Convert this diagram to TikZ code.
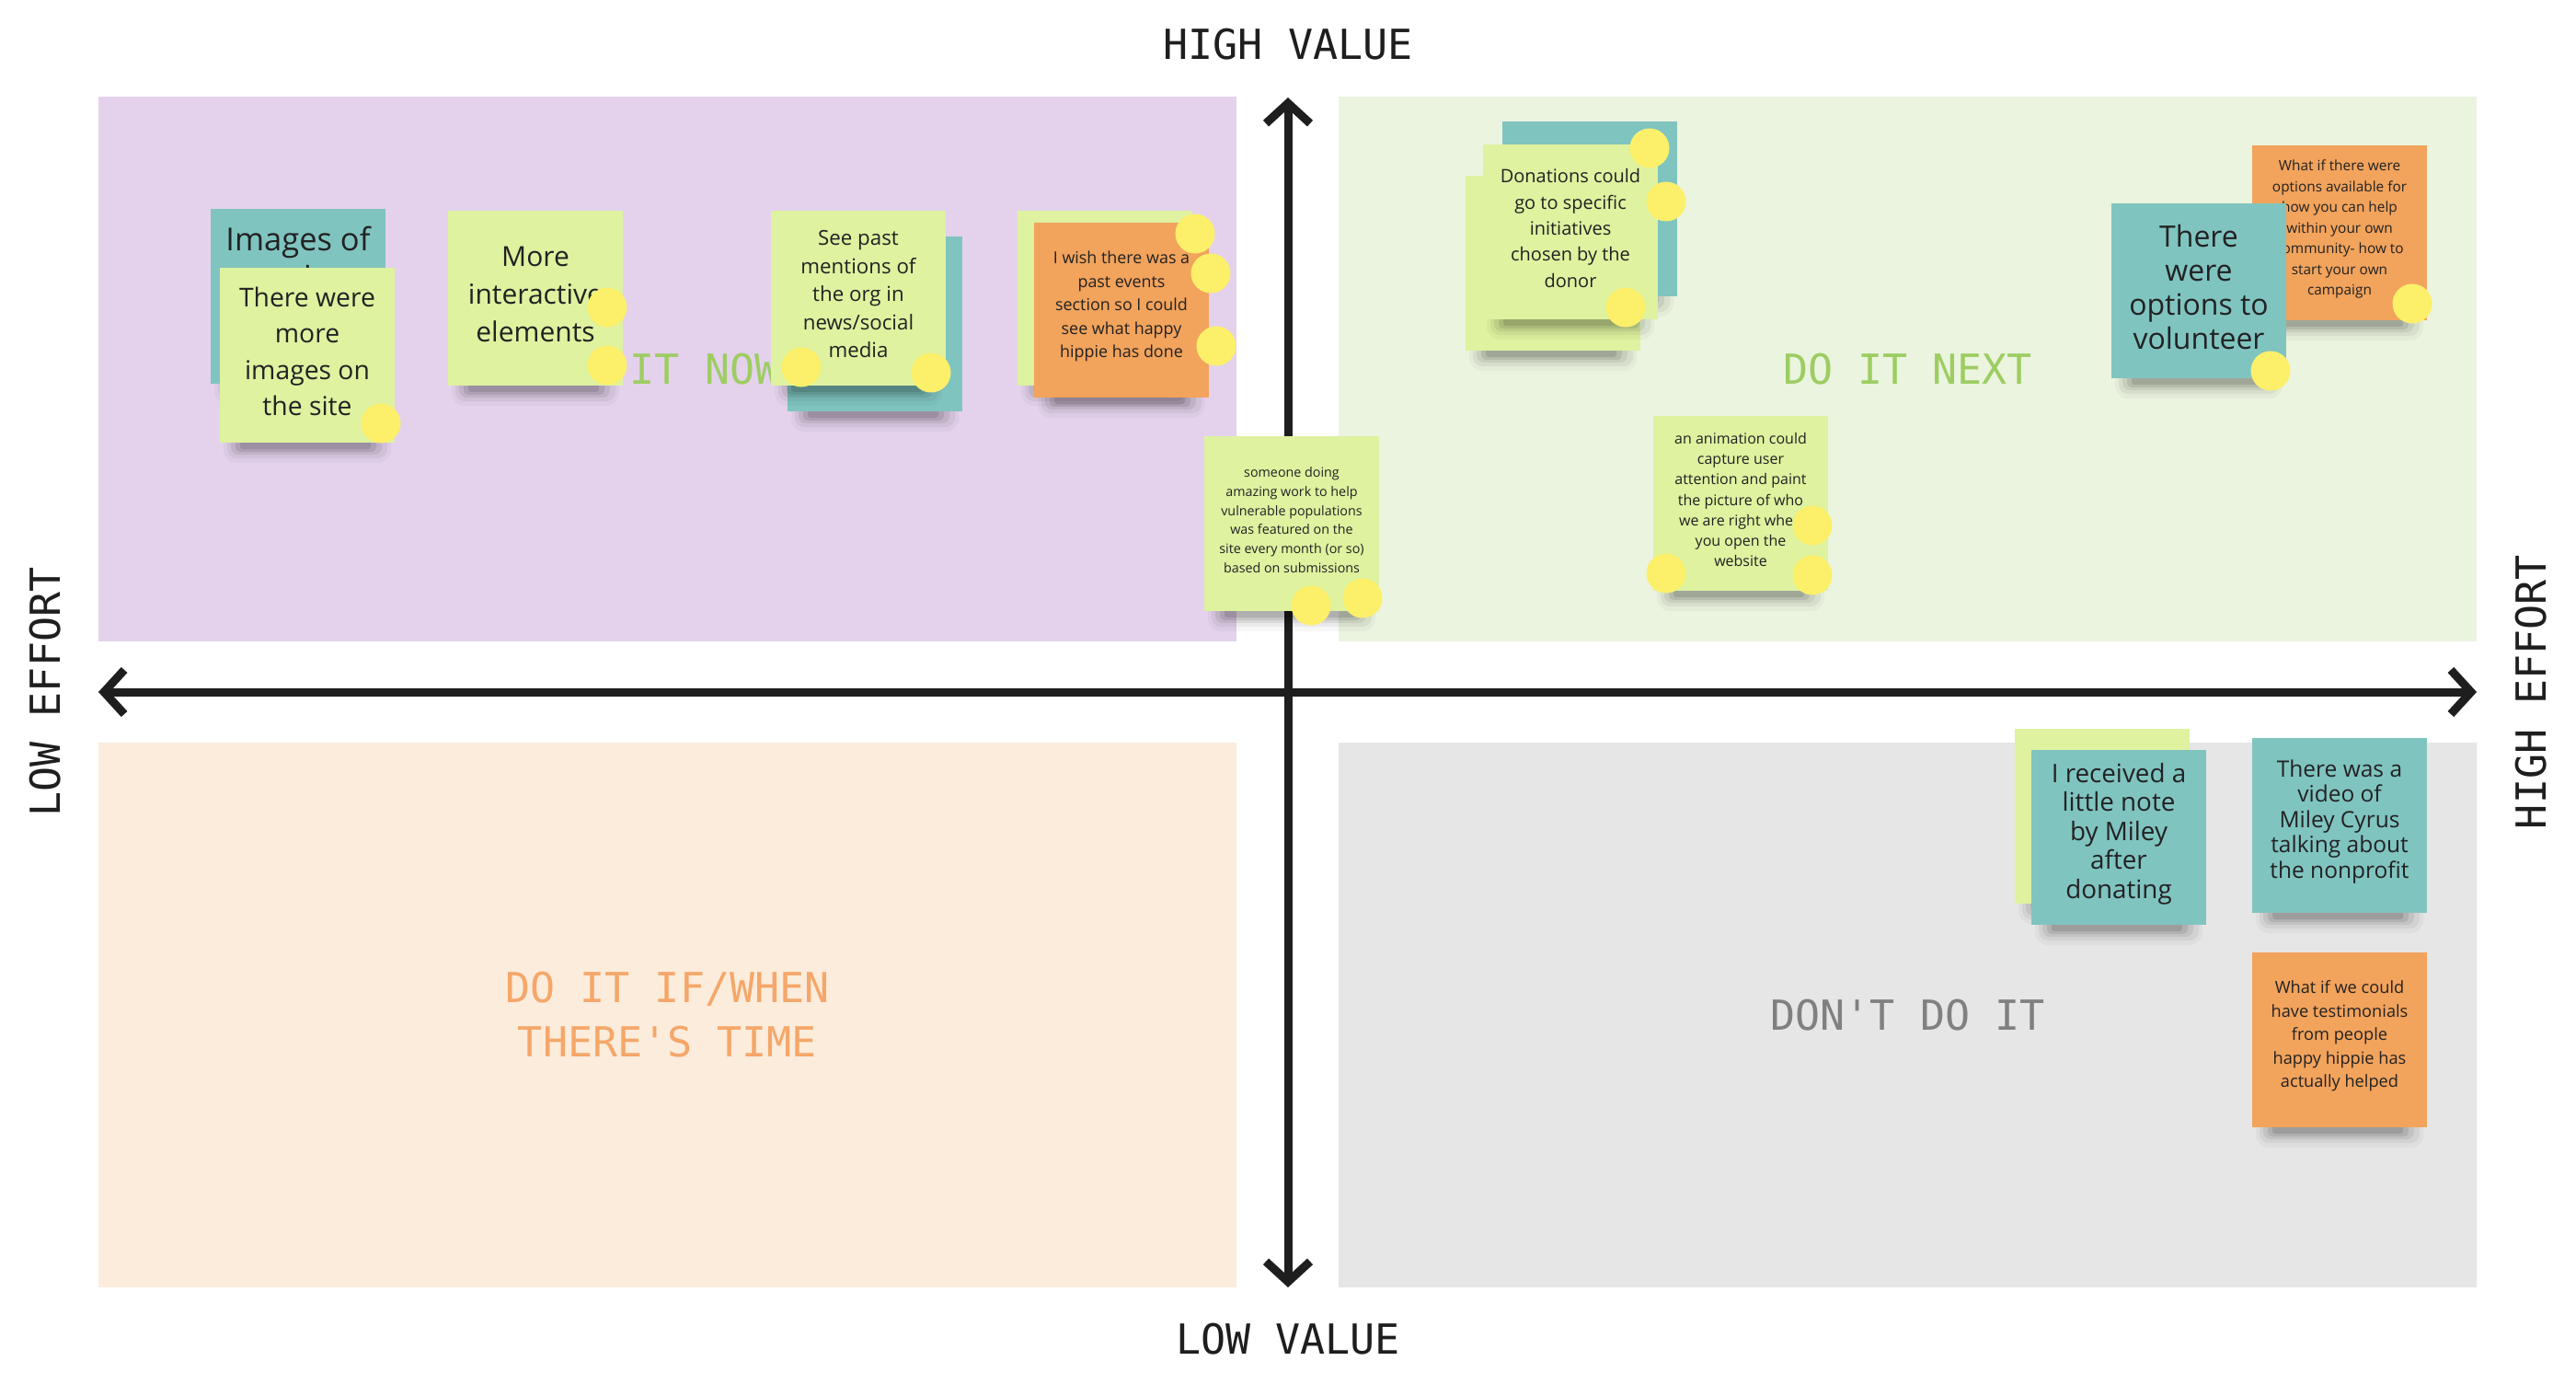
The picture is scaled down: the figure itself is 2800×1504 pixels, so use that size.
\documentclass[tikz,border=0pt]{standalone}
\usepackage{fontspec}
\setmainfont{Open Sans}
\newfontfamily\monofont{DejaVu Sans Mono}
\usetikzlibrary{arrows.meta}
\definecolor{bgpurple}{HTML}{E4D2EC}
\definecolor{bggreen}{HTML}{EBF4DF}
\definecolor{bgpeach}{HTML}{FBECDC}
\definecolor{bggrey}{HTML}{E6E6E6}
\definecolor{stgreen}{HTML}{DEF2A0}
\definecolor{stteal}{HTML}{80C4C0}
\definecolor{storange}{HTML}{F2A35C}
\definecolor{dotyellow}{HTML}{FCF06A}
\definecolor{inkc}{HTML}{1E1E1E}
\definecolor{stinkc}{HTML}{222222}
\definecolor{lblgreen}{HTML}{9DCD62}
\definecolor{lblorange}{HTML}{F5A769}
\definecolor{lblgrey}{HTML}{808080}

% #1 name, #2 x, #3 y (top-left), #4 colour, #5 font size, #6 leading, #7 text
\newcommand{\postit}[7]{%
  \fill[black,opacity=.03,rounded corners=14pt] ({#2+4},{#3+176}) rectangle ({#2+186},{#3+212});
  \fill[black,opacity=.05,rounded corners=10pt] ({#2+8},{#3+177}) rectangle ({#2+182},{#3+207});
  \fill[black,opacity=.07,rounded corners=8pt] ({#2+12},{#3+178}) rectangle ({#2+176},{#3+203});
  \fill[black,opacity=.09,rounded corners=5pt] ({#2+17},{#3+179}) rectangle ({#2+170},{#3+200});
  \fill[black,opacity=.11,rounded corners=3pt] ({#2+22},{#3+180}) rectangle ({#2+164},{#3+197});
  \node[sticky,fill=#4] (#1) at ({#2+95},{#3+95}) {};
  \node[stickytext,font=\fontsize{#5}{#6}\selectfont] (#1t) at ([yshift=4pt]#1.center) {#7};
}

\begin{document}
\begin{tikzpicture}[x=1pt,y=-1pt,
  quad/.style={rectangle,minimum width=1237pt,minimum height=592pt,inner sep=0pt,draw=none},
  qlabel/.style={font=\monofont\fontsize{45}{59}\selectfont,align=center,inner sep=0pt},
  axlabel/.style={font=\monofont\fontsize{45}{54}\selectfont,text=inkc,inner sep=0pt},
  sticky/.style={rectangle,minimum width=190pt,minimum height=190pt,inner sep=0pt},
  stickytext/.style={inner sep=0pt,align=center,text=stinkc},
  dot/.style={circle,fill=dotyellow,minimum size=43pt,inner sep=0pt},
  axis/.style={draw=inkc,line width=9pt,{Straight Barb[length=22pt,width=48pt]}-{Straight Barb[length=22pt,width=48pt]}}
]
\fill[white] (0,0) rectangle (2800,1504);
\useasboundingbox (0,0) rectangle (2800,1504);

% quadrants
\node[quad,fill=bgpurple] (qNW) at (725.5,401) {};
\node[quad,fill=bggreen] (qNE) at (2073.5,401) {};
\node[quad,fill=bgpeach] (qSW) at (725.5,1103) {};
\node[quad,fill=bggrey] (qSE) at (2073.5,1103) {};

% quadrant labels
\node[qlabel,text=lblgreen] (lNW) at (qNW.center) {DO IT NOW};
\node[qlabel,text=lblgreen] (lNE) at (qNE.center) {DO IT NEXT};
\node[qlabel,text=lblorange] (lSW) at (qSW.center) {DO IT IF/WHEN\\THERE'S TIME};
\node[qlabel,text=lblgrey] (lSE) at (qSE.center) {DON'T DO IT};

% axis labels
\node[axlabel] (lTop) at (1400,48.5) {HIGH VALUE};
\node[axlabel] (lBot) at (1400,1455.5) {LOW VALUE};
\node[axlabel,rotate=90] (lLeft) at (49,752) {LOW EFFORT};
\node[axlabel,rotate=90] (lRight) at (2751,752) {HIGH EFFORT};

% axes
\coordinate (axL) at (107,752);
\coordinate (axR) at (2692,752);
\coordinate (axT) at (1400,106);
\coordinate (axB) at (1400,1399);
\draw[axis] (axL) -- (axR);
\draw[axis] (axT) -- (axB);

% DO IT NOW quadrant
\postit{sA}{229}{227}{stteal}{34.5}{37}{}
\node[stickytext,font=\fontsize{34.5}{42}\selectfont] (sAtext) at ([yshift=42pt]sA.center) {Images of\\members};
\postit{sB}{239}{291}{stgreen}{28.3}{39.3}{There were\\more\\images on\\the site}
\node[dot] (dB1) at (414,460) {};
\postit{sC}{487}{229}{stgreen}{30}{41}{More\\interactive\\elements}
\node[dot] (dC1) at (660,334) {};
\node[dot] (dC2) at (660,397) {};
\postit{sD}{856}{257}{stteal}{22.3}{30.5}{}
\postit{sE}{838}{229}{stgreen}{22.3}{30.5}{See past\\mentions of\\the org in\\news/social\\media}
\node[dot] (dE1) at (871,399) {};
\node[dot] (dE2) at (1012,405) {};
\postit{sF}{1106}{229}{stgreen}{17.9}{25.5}{}
\postit{sG}{1124}{242}{storange}{17.9}{25.5}{I wish there was a\\past events\\section so I could\\see what happy\\hippie has done}
\node[dot] (dG1) at (1299,254) {};
\node[dot] (dG2) at (1316,297) {};
\node[dot] (dG3) at (1322,376) {};
\postit{sH}{1309}{474}{stgreen}{14.3}{20.7}{someone doing\\amazing work to help\\vulnerable populations\\was featured on the\\site every month (or so)\\based on submissions}
\node[dot] (dH1) at (1425,658) {};
\node[dot] (dH2) at (1481,650) {};

% DO IT NEXT quadrant
\postit{sI}{1633}{132}{stteal}{20}{28.4}{}
\postit{sJa}{1593}{191}{stgreen}{20}{28.4}{}
\postit{sJb}{1612}{157}{stgreen}{20}{28.4}{Donations could\\go to specific\\initiatives\\chosen by the\\donor}
\node[dot] (dJ1) at (1793,161) {};
\node[dot] (dJ2) at (1811,219) {};
\node[dot] (dJ3) at (1767,334) {};
\postit{sK}{1797}{452}{stgreen}{16}{22.3}{an animation could\\capture user\\attention and paint\\the picture of who\\we are right when\\you open the\\website}
\node[dot] (dK1) at (1970,571) {};
\node[dot] (dK2) at (1811,623) {};
\node[dot] (dK3) at (1970,625) {};
\postit{sL}{2448}{158}{storange}{15.4}{22.5}{What if there were\\options available for\\how you can help\\within your own\\community- how to\\start your own\\campaign}
\node[dot] (dL1) at (2622,330) {};
\postit{sM}{2295}{221}{stteal}{32}{36.7}{There\\were\\options to\\volunteer}
\node[dot] (dM1) at (2468,403) {};

% DON'T DO IT quadrant
\postit{sN}{2190}{792}{stgreen}{28}{31.6}{}
\postit{sO}{2208}{815}{stteal}{27.8}{31.6}{I received a\\little note\\by Miley\\after\\donating}
\postit{sP}{2448}{802}{stteal}{24.5}{27.4}{There was a\\video of\\Miley Cyrus\\talking about\\the nonprofit}
\postit{sQ}{2448}{1035}{storange}{18.2}{25.4}{What if we could\\have testimonials\\from people\\happy hippie has\\actually helped}
\end{tikzpicture}
\end{document}
